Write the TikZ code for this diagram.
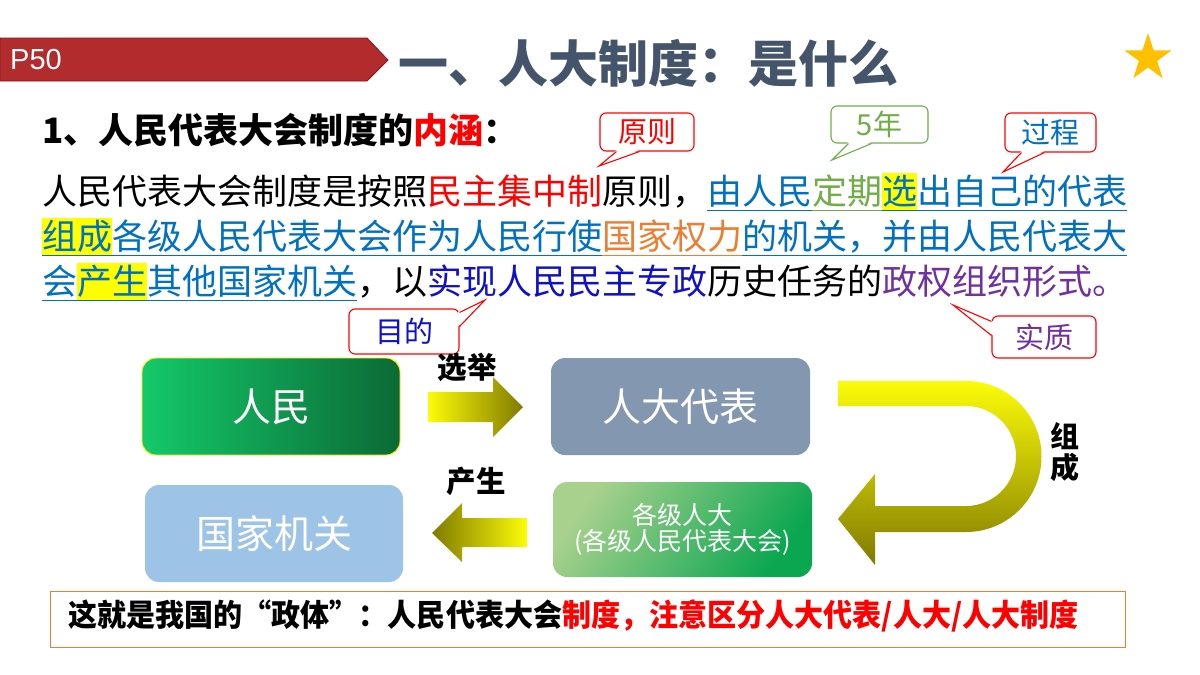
\documentclass[tikz,border=0pt]{standalone}
\usepackage{fontspec}
\usepackage{graphicx}
\usetikzlibrary{shapes.geometric,calc}
\newfontfamily\cjk{Noto Sans CJK SC}
\newfontfamily\arialf{Liberation Sans}
\definecolor{cblue}{RGB}{0,112,192}
\definecolor{cgreen}{RGB}{112,173,71}
\definecolor{corange}{RGB}{237,125,49}
\definecolor{cdblue}{RGB}{16,16,200}
\definecolor{cpurple}{RGB}{112,48,160}
\definecolor{ctitle}{RGB}{68,84,106}
\definecolor{cred}{RGB}{255,0,0}
\definecolor{hly}{RGB}{255,255,0}
\definecolor{ribbon}{RGB}{178,44,46}
\definecolor{ribbond}{RGB}{140,20,22}
\definecolor{cstar}{RGB}{255,192,0}
\definecolor{ayellow}{RGB}{252,252,8}
\definecolor{amid}{RGB}{232,232,18}
\definecolor{aolive}{RGB}{128,122,0}
\definecolor{gleft}{RGB}{20,201,106}
\definecolor{gright}{RGB}{11,106,53}
\definecolor{rdbox}{RGB}{132,151,176}
\definecolor{gjbox}{RGB}{157,195,230}
\definecolor{glight}{RGB}{169,209,142}
\definecolor{gdark}{RGB}{10,166,80}
\newcommand\ul[1]{\setbox0\hbox{#1}\copy0\llap{\rule[-0.2em]{\wd0}{1.4pt}}}
\newcommand\hl[1]{{\setlength{\fboxsep}{0pt}\colorbox{hly}{\rule[-0.2em]{0pt}{1.1em}#1}}}
\begin{document}
\begin{tikzpicture}[x=1pt,y=-1pt,
  txt/.style={inner sep=0pt, anchor=base west, font=\cjk\fontsize{35}{40}\selectfont},
  callbox/.style={draw, fill=white, rounded corners=6pt, line width=1.1pt, inner sep=0pt, font=\cjk\fontsize{29}{32}\selectfont},
  callptr/.style={line width=1.1pt},
  flowbox/.style={rounded corners=14pt, inner sep=0pt, text=white, font=\cjk\fontsize{39}{42}\selectfont},
  arrlabel/.style={inner sep=0pt, font=\cjk\bfseries\fontsize{29.5}{31}\selectfont}]
\useasboundingbox (0,0) rectangle (1200,675);
\fill[white] (0,0) rectangle (1200,675);

% header ribbon
\filldraw[fill=ribbon, draw=ribbond, line width=0.8pt] (0,38) -- (367,38) -- (388,60) -- (367,81) -- (0,81) -- cycle;
\node[inner sep=0pt, anchor=base west, text=white, font=\arialf\fontsize{29}{32}\selectfont] (p50) at (10,69) {P50};
\node[inner sep=0pt, anchor=base west, text=ctitle, font=\cjk\bfseries\fontsize{50}{54}\selectfont] (title) at (398,82) {一、人大制度：是什么};
\node[star, star points=5, star point ratio=2.618, fill=cstar, minimum size=50pt, inner sep=0pt] (star) at (1148,58) {};

% heading
\node[txt, font=\cjk\bfseries\fontsize{35}{40}\selectfont] (head) at (42,143) {1、人民代表大会制度的{\color{cred}内涵}：};

% paragraph
\node[txt] (l1) at (42,204) {人民代表大会制度是按照{\color{cred}民主集中制}原则，{\color{cblue}\ul{由人民}}{\color{cgreen}\ul{定期}}{\color{cblue}\ul{\hl{选}出自己的代表}}};
\node[txt] (l2) at (42,249) {{\color{cblue}\ul{\hl{组成}各级人民代表大会作为人民行使}}{\color{corange}\ul{国家权力}}{\color{cblue}\ul{的机关，并由人民代表大}}};
\node[txt] (l3) at (42,294) {{\color{cblue}\ul{会\hl{产生}其他国家机关}}，以{\color{cdblue}实现人民民主专政}历史任务的{\color{cpurple}政权组织形式。}};

% callouts
\node[callbox, draw=cred, text=cred, minimum width=94pt, minimum height=38pt] (yz) at (647,132) {原则};
\coordinate (yzt) at (599,166);
\fill[white] ($(yz.south west)+(17,-1.6)$) -- (yzt) -- ($(yz.south west)+(40,-1.6)$) -- cycle;
\draw[callptr, cred] ($(yz.south west)+(17,0)$) -- (yzt) -- ($(yz.south west)+(40,0)$);

\node[callbox, draw=cgreen, text=cgreen, minimum width=97pt, minimum height=37pt] (wn) at (879.5,124.5) {5年};
\coordinate (wnt) at (832,160);
\fill[white] ($(wn.south west)+(18,-1.6)$) -- (wnt) -- ($(wn.south west)+(41,-1.6)$) -- cycle;
\draw[callptr, cgreen] ($(wn.south west)+(18,0)$) -- (wnt) -- ($(wn.south west)+(41,0)$);

\node[callbox, draw=cred, text=cblue, minimum width=91pt, minimum height=39pt] (gc) at (1050.5,132.5) {过程};
\coordinate (gct) at (1003,172);
\fill[white] ($(gc.south west)+(17,-1.6)$) -- (gct) -- ($(gc.south west)+(40,-1.6)$) -- cycle;
\draw[callptr, cred] ($(gc.south west)+(17,0)$) -- (gct) -- ($(gc.south west)+(40,0)$);

\node[callbox, draw=cred, text=cdblue, minimum width=110pt, minimum height=45pt] (md) at (404,331.5) {目的};
\coordinate (mdt) at (485,300);
\fill[white] ($(md.north east)+(-1.6,4)$) -- (mdt) -- ($(md.north east)+(-1.6,18)$) -- cycle;
\draw[callptr, cred] ($(md.north east)+(0,4)$) -- (mdt) -- ($(md.north east)+(0,18)$);

\node[callbox, draw=cred, text=cpurple, minimum width=104pt, minimum height=42pt] (sz) at (1044,337) {实质};
\coordinate (szt) at (953,305);
\fill[white] ($(sz.north west)+(1.6,6)$) -- (szt) -- ($(sz.north west)+(1.6,20)$) -- cycle;
\draw[callptr, cred] ($(sz.north west)+(0,6)$) -- (szt) -- ($(sz.north west)+(0,20)$);

% flow boxes
\node[flowbox, left color=gleft, right color=gright, draw=yellow, line width=0.9pt, minimum width=258pt, minimum height=97pt] (rm) at (271,406.5) {人民};
\node[flowbox, fill=rdbox, minimum width=259pt, minimum height=97pt] (rd) at (680.5,406.5) {人大代表};
\node[flowbox, fill=gjbox, minimum width=258pt, minimum height=97pt] (gj) at (274,533.5) {国家机关};
\node[flowbox, top color=glight, bottom color=gdark, shading angle=55, minimum width=259pt, minimum height=95pt, align=center, font=\cjk\fontsize{25}{26}\selectfont] (rdh) at (682.5,529.5) {各级人大\\(各级人民代表大会)};

% block arrows
\shade[left color=ayellow, right color=aolive] (428,392) -- (493,392) -- (493,377) -- (523,407) -- (493,437) -- (493,422) -- (428,422) -- cycle;
\shade[left color=aolive, right color=ayellow] (527,518) -- (462,518) -- (462,503) -- (432,533) -- (462,562) -- (462,547) -- (527,547) -- cycle;
\shade[top color=ayellow, middle color=amid, bottom color=aolive] (838,381) -- (966,381) arc[start angle=-90, end angle=90, radius=75.5] -- (875,532) -- (875,565) -- (838,519) -- (875,474) -- (875,506) -- (966,506) arc[start angle=90, end angle=-90, radius=50] -- (838,406) -- cycle;

\node[arrlabel] (xj) at (467,367) {选举};
\node[arrlabel] (cs) at (476,481) {产生};
\node[arrlabel, align=center, font=\cjk\bfseries\fontsize{29}{31}\selectfont] (zc) at (1065,452.5) {组\\成};

% bottom note
\node[draw=corange, line width=1pt, minimum width=1075pt, minimum height=56pt, inner sep=0pt] (note) at (587.5,619) {};
\node[inner sep=0pt, anchor=west, font=\cjk\bfseries\fontsize{28}{30}\selectfont] (notetext) at (68,616) {\scalebox{1.038}[1.1]{这就是我国的“政体”：人民代表大会{\color{cred}制度，注意区分人大代表/人大/人大制度}}};
\end{tikzpicture}
\end{document}
